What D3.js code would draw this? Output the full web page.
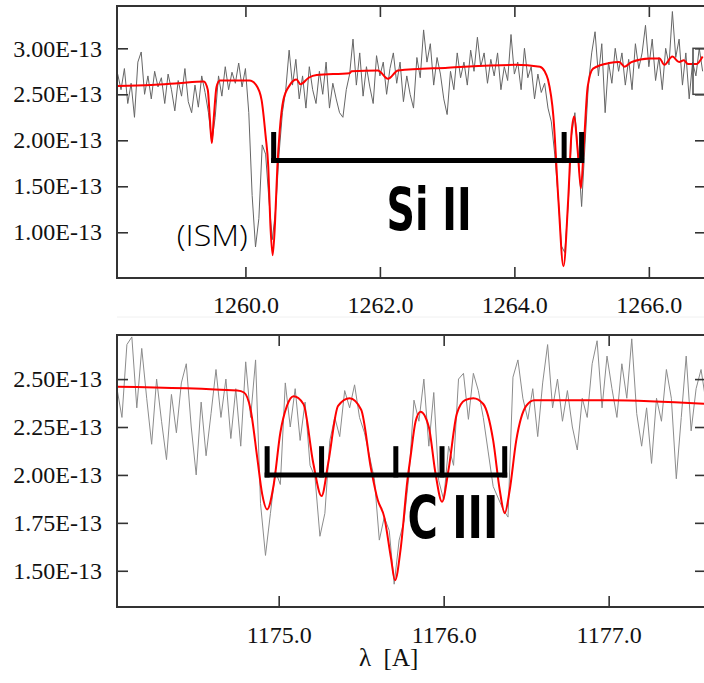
<html>
<head>
<meta charset="utf-8">
<title>Si II / C III</title>
<style>
    body { margin: 0; padding: 0; background: white; }
    .tick line { stroke: #333; stroke-width: 1.6; }
    .frame { fill: none; stroke: #333; stroke-width: 2; }
    .obs { fill: none; stroke-width: 1; }
    .model { fill: none; stroke: #ff0000; stroke-width: 2; }
    .ion { font-family: "Liberation Sans Narrow", "DejaVu Sans Condensed", sans-serif; font-weight: bold; font-size: 58px; fill: #000; }
</style>
</head>
<body>
<div id="chart"></div>
<script src="https://d3js.org/d3.v7.min.js"></script>
<script>
// observed flux (1e-13), top panel, grid 1258.10 + 0.05*i
var topWaveStart = 1258.10, topWaveStep = 0.05;
var topFlux = [
    2.72,2.55,2.78,2.40,2.62,2.25,2.85,2.96,2.50,2.70,2.45,2.75,2.58,2.68,2.40,2.72,2.55,2.32,2.65,2.48,
    2.78,2.42,2.30,2.60,2.36,2.70,2.52,2.30,1.98,2.25,2.70,2.48,2.80,2.55,2.74,2.62,2.84,2.58,2.78,2.30,
    1.40,0.84,1.15,1.95,1.85,1.35,0.92,1.25,1.85,2.30,2.55,2.98,2.60,2.88,2.45,2.70,2.35,2.80,2.55,2.40,
    2.75,2.50,2.85,2.35,2.62,2.45,2.30,2.25,2.55,2.72,3.10,2.60,2.95,2.48,2.80,2.58,2.40,2.92,2.70,2.85,
    2.50,2.78,2.95,2.62,2.85,2.42,2.70,2.50,2.35,2.90,2.68,3.20,2.85,3.05,2.60,2.90,2.72,2.45,2.28,2.75,
    2.55,2.95,2.68,2.85,2.60,2.98,2.75,3.12,2.80,2.95,2.62,2.88,2.70,2.95,2.55,2.80,2.65,3.15,2.72,2.85,
    2.55,3.00,2.68,2.80,2.45,2.72,2.52,2.62,2.35,2.20,1.85,1.40,0.85,0.78,1.30,2.05,2.30,1.85,1.28,1.95,
    2.60,2.95,3.18,2.70,3.05,2.30,2.85,2.62,3.00,2.75,2.95,2.60,2.88,2.55,3.05,2.78,2.95,3.25,2.80,3.10,
    2.65,2.90,2.55,3.00,2.82,3.40,2.90,3.10,2.60,2.95,2.45,2.85,2.70,3.00,2.75
];

// model fit, top panel
var topModelWave = [1258.09,1258.6,1259.0,1259.38,1259.44,1259.47,1259.50,1259.53,1259.57,1259.62,1260.06,1260.16,
    1260.24,1260.30,1260.34,1260.37,1260.405,1260.44,1260.475,1260.51,1260.565,1260.66,1260.76,1260.82,1260.94,
    1261.06,1261.55,1261.58,1261.97,1262.12,1262.27,1263.01,1264.01,1264.38,1264.45,1264.50,1264.58,1264.655,
    1264.73,1264.80,1264.85,1264.89,1264.94,1264.99,1265.03,1265.09,1265.17,1265.41,1265.56,1265.64,1265.74,
    1266.01,1266.16,1266.23,1266.35,1266.45,1266.52,1266.58,1266.71,1266.80];
var topModelFlux = [2.59,2.60,2.62,2.64,2.55,2.25,1.97,2.25,2.58,2.65,2.65,2.60,
    2.44,2.05,1.71,1.10,0.75,1.10,1.71,2.10,2.44,2.60,2.66,2.61,2.68,
    2.71,2.73,2.75,2.76,2.67,2.76,2.79,2.82,2.80,2.75,2.66,2.26,1.35,
    0.63,1.35,2.08,2.26,1.90,1.48,1.90,2.58,2.78,2.84,2.85,2.80,2.85,
    2.89,2.89,2.82,2.91,2.85,2.87,2.83,2.83,2.91];

// observed flux, bottom panel, grid 1174.02 + 0.03*i
var botWaveStart = 1174.02, botWaveStep = 0.03;
var botFlux = [
    2.45,2.30,2.68,2.72,2.35,2.66,2.40,2.16,2.50,2.28,
    2.08,2.42,2.22,2.48,2.58,2.25,2.00,2.38,2.10,2.32,
    2.55,2.30,2.50,2.19,2.45,2.15,2.59,2.30,2.60,1.85,
    1.58,1.80,2.02,1.95,2.48,2.25,2.45,2.18,2.38,2.05,
    1.99,1.68,1.80,2.18,2.30,2.20,2.44,2.35,2.47,2.30,
    2.22,2.10,1.98,1.66,1.78,1.71,1.43,1.66,1.76,2.00,
    2.39,2.28,2.50,2.15,2.43,1.97,1.87,2.15,2.05,2.50,
    2.53,2.29,2.53,2.44,2.30,2.12,1.94,1.88,1.82,1.78,
    2.51,2.60,2.40,2.29,2.45,2.20,2.48,2.68,2.35,2.50,
    2.28,2.44,2.25,2.13,2.40,2.30,2.58,2.70,2.35,2.62,
    2.45,2.30,2.58,2.40,2.71,2.32,2.15,2.35,2.06,2.40,
    2.28,2.55,2.40,1.98,2.30,2.62,2.23,2.45,2.55,2.38
];

var botModelWave = [1174.02,1174.75,1174.79,1174.83,1174.87,1174.90,1174.93,1174.97,1175.01,1175.05,1175.09,
    1175.15,1175.21,1175.26,1175.30,1175.36,1175.43,1175.50,1175.56,1175.60,1175.64,1175.68,1175.705,1175.74,
    1175.78,1175.80,1175.83,1175.86,1175.91,1175.95,1175.99,1176.03,1176.08,1176.13,1176.18,1176.24,1176.30,
    1176.34,1176.37,1176.40,1176.44,1176.50,1176.55,1177.01,1177.60];
var botModelFlux = [2.46,2.44,2.43,2.34,2.09,1.90,1.82,1.95,2.22,2.36,2.41,
    2.37,2.06,1.89,2.06,2.36,2.40,2.34,2.03,1.87,1.78,1.57,1.45,1.62,
    1.97,2.10,2.28,2.33,2.25,2.01,1.86,2.03,2.32,2.39,2.40,2.37,2.18,
    1.92,1.80,1.92,2.18,2.36,2.39,2.39,2.37];

// line markers
var siLines = [1260.42, 1264.74, 1265.00];
var cLines = [1174.93, 1175.26, 1175.71, 1175.99, 1176.37];

var topXTicks = [1260, 1262, 1264, 1266];
var topYTicks = [1.0, 1.5, 2.0, 2.5, 3.0];
var botXTicks = [1175, 1176, 1177];
var botYTicks = [1.5, 1.75, 2.0, 2.25, 2.5];

var width = 704, height = 683;
var svg = d3.select("#chart").append("svg")
    .attr("width", width)
    .attr("height", height);

function styleTicks(a) {
    a.select(".domain").remove();
    a.selectAll(".tick text")
        .style("font-family", "'Liberation Serif', 'Times New Roman', serif")
        .style("font-size", "24px")
        .style("fill", "#111");
}

function panel(opts) {
    var x = d3.scaleLinear().domain(opts.xDomain).range([117, 706]);
    var y = d3.scaleLinear().domain(opts.yDomain).range([opts.bottom, opts.top]);
    var g = svg.append("g");

    g.append("clipPath").attr("id", opts.id)
        .append("rect")
        .attr("x", 117).attr("y", opts.top)
        .attr("width", 706 - 117).attr("height", opts.bottom - opts.top);

    var obs = opts.flux.map(function (f, i) { return [opts.waveStart + opts.waveStep * i, f]; });
    var mod = opts.modelWave.map(function (w, i) { return [w, opts.modelFlux[i]]; });

    var line = d3.line().x(function (d) { return x(d[0]); }).y(function (d) { return y(d[1]); });

    g.append("path").datum(obs).attr("class", "obs")
        .attr("stroke", opts.obsColor)
        .attr("clip-path", "url(#" + opts.id + ")")
        .attr("d", line);
    g.append("path").datum(mod).attr("class", "model")
        .attr("clip-path", "url(#" + opts.id + ")")
        .attr("d", line.curve(d3.curveMonotoneX));

    // axes, ticks pointing inward
    g.append("g").attr("transform", "translate(117,0)")
        .call(d3.axisLeft(y).tickValues(opts.yTicks).tickSize(-11).tickPadding(15).tickFormat(opts.yFmt))
        .call(styleTicks);
    g.append("g").attr("transform", "translate(706,0)")
        .call(d3.axisRight(y).tickValues(opts.yTicks).tickSize(-11).tickFormat(""))
        .call(styleTicks);
    g.append("g").attr("transform", "translate(0," + opts.bottom + ")")
        .call(d3.axisBottom(x).tickValues(opts.xTicks).tickSize(-11).tickPadding(opts.xPad).tickFormat(d3.format(".1f")))
        .call(styleTicks);
    g.append("g").attr("transform", "translate(0," + opts.top + ")")
        .call(d3.axisTop(x).tickValues(opts.xTicks).tickSize(-11).tickFormat(""))
        .call(styleTicks);

    g.append("rect").attr("class", "frame")
        .attr("x", 117).attr("y", opts.top)
        .attr("width", 706 - 117).attr("height", opts.bottom - opts.top);

    // line identification bracket
    var lines = opts.ionLines;
    var yb = y(opts.barY), yt = y(opts.barTop);
    g.append("line")
        .attr("x1", x(lines[0]) - 2.5).attr("x2", x(lines[lines.length - 1]) + 2.5)
        .attr("y1", yb).attr("y2", yb)
        .attr("stroke", "#000").attr("stroke-width", 5);
    g.selectAll(".mark").data(lines).enter().append("line")
        .attr("x1", function (d) { return x(d); }).attr("x2", function (d) { return x(d); })
        .attr("y1", yb + 2.5).attr("y2", yt)
        .attr("stroke", "#000").attr("stroke-width", 5);

    g.append("text").attr("class", "ion")
        .attr("x", x(opts.labelAt[0])).attr("y", y(opts.labelAt[1]))
        .attr("textLength", opts.labelWidth)
        .attr("lengthAdjust", "spacingAndGlyphs")
        .text(opts.label);

    return { g: g, x: x, y: y };
}

var expFmt = function (d) { return d.toFixed(2) + "E-13"; };

var topP = panel({
    id: "clipTop", top: 6, bottom: 278,
    xDomain: [1258.09, 1266.85], yDomain: [0.503, 3.46],
    flux: topFlux, waveStart: topWaveStart, waveStep: topWaveStep, obsColor: "#666",
    modelWave: topModelWave, modelFlux: topModelFlux,
    xTicks: topXTicks, yTicks: topYTicks, yFmt: expFmt, xPad: 18,
    ionLines: siLines, barY: 1.78, barTop: 2.09,
    label: "Si II", labelAt: [1262.10, 1.025], labelWidth: 85
});

topP.g.append("text")
    .attr("x", topP.x(1258.98)).attr("y", topP.y(0.85))
    .attr("font-family", "'Open Sans', 'Noto Sans', sans-serif")
    .attr("font-weight", 300)
    .attr("font-size", 30)
    .attr("fill", "#000")
    .attr("textLength", 71)
    .attr("lengthAdjust", "spacingAndGlyphs")
    .text("(ISM)");

// partial legend box at the right edge
topP.g.append("rect")
    .attr("x", 693).attr("y", topP.y(3.0)).attr("width", 30)
    .attr("height", topP.y(2.5) - topP.y(3.0))
    .attr("fill", "none").attr("stroke", "#444").attr("stroke-width", 1.5);

svg.append("line").attr("x1", 117).attr("x2", 704).attr("y1", 317).attr("y2", 317)
    .attr("stroke", "#f0f0f0");

var botP = panel({
    id: "clipBot", top: 335, bottom: 607,
    xDomain: [1174.02, 1177.59], yDomain: [1.311, 2.73],
    flux: botFlux, waveStart: botWaveStart, waveStep: botWaveStep, obsColor: "#8c8c8c",
    modelWave: botModelWave, modelFlux: botModelFlux,
    xTicks: botXTicks, yTicks: botYTicks, yFmt: expFmt, xPad: 19,
    ionLines: cLines, barY: 2.0, barTop: 2.15,
    label: "C III", labelAt: [1175.78, 1.67], labelWidth: 91
});

svg.append("text")
    .attr("x", 359).attr("y", 666)
    .attr("font-family", "'Liberation Serif', serif")
    .attr("font-size", 25)
    .attr("fill", "#111")
    .style("white-space", "pre")
    .text("λ  [A]");
</script>
</body>
</html>
